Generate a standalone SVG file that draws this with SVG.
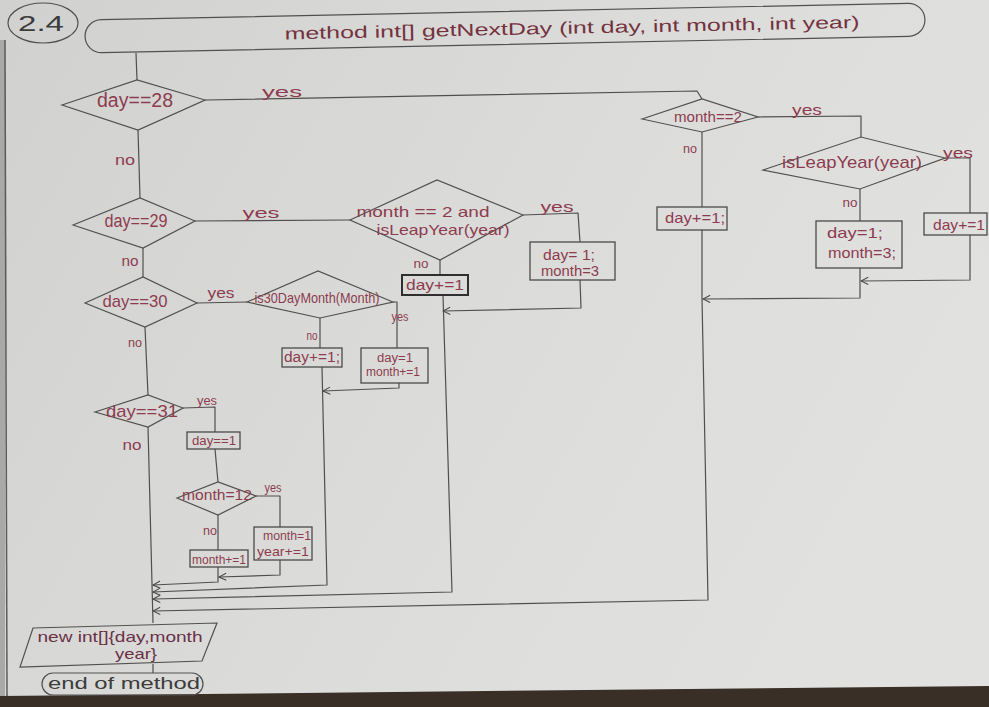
<svg xmlns="http://www.w3.org/2000/svg" width="989" height="707" viewBox="0 0 989 707">
  <defs>
    <linearGradient id="paper" x1="0" y1="0" x2="1" y2="0.4">
      <stop offset="0" stop-color="#d1d2cf"/>
      <stop offset="0.55" stop-color="#dbdcd9"/>
      <stop offset="1" stop-color="#e1e2e0"/>
    </linearGradient>
    <marker id="chev" viewBox="0 0 10 10" refX="9" refY="5" markerWidth="9" markerHeight="9" markerUnits="userSpaceOnUse" orient="auto">
      <path d="M1,1 L9,5 L1,9" fill="none" stroke="#4a4a4a" stroke-width="1.2"/>
    </marker>
    <style>
      .ln { fill: none; stroke: #4f4f4f; stroke-width: 1.2; stroke-linejoin: round; }
      .arr { marker-end: url(#chev); }
      .shp { fill: none; stroke: #505050; stroke-width: 1.2; }
      .box { fill: none; stroke: #4a4a4a; stroke-width: 1.3; }
      .bold { stroke: #2f2f2f; stroke-width: 2; }
      .ink { font-family: "Liberation Sans", Arial, sans-serif; fill: #8d3c50; text-anchor: middle; }
      .dark { fill: #3c3c3c; }
      .title { fill: #74323f; }
      .ret { fill: #6a3048; }
      .yn { font-size: 15px; }
    </style>
  </defs>

  <!-- sheet of paper -->
  <rect x="0" y="0" width="989" height="707" fill="url(#paper)"/>
  <rect x="0" y="40" width="5" height="660" fill="#a9aaa7"/>
  <line x1="5" y1="40" x2="7" y2="698" stroke="#5a5a58" stroke-width="1.5"/>
  <polygon points="0,696 989,686 989,707 0,707" fill="#3a2f27"/>

  <!-- task number -->
  <g id="task-number">
    <ellipse cx="43" cy="23" rx="35" ry="20" class="shp"/>
    <text x="41" y="31" class="ink dark" font-size="22" textLength="46" lengthAdjust="spacingAndGlyphs">2.4</text>
  </g>

  <!-- method header -->
  <g id="start" transform="rotate(-1.16 505 28)">
    <rect x="85" y="11.5" width="840" height="33" rx="16.5" class="shp"/>
    <text x="572" y="35" class="ink title" font-size="17" textLength="575" lengthAdjust="spacingAndGlyphs">method  int[]  getNextDay (int day, int month, int year)</text>
  </g>

  <!-- connectors -->
  <g id="connectors">
    <polyline class="ln" points="136,53 137,80"/>
    <polyline class="ln" points="205,100 697,91 702,99"/>
    <polyline class="ln" points="138,130 140,198"/>
    <polyline class="ln" points="195,221 350,220"/>
    <polyline class="ln" points="143,248 143,277"/>
    <polyline class="ln" points="197,303 247,302"/>
    <polyline class="ln" points="145,327 148,395"/>
    <polyline class="ln" points="148,427 153,623"/>
    <polyline class="ln" points="183,408 215,407 215,432"/>
    <polyline class="ln" points="215,449 218,482"/>
    <polyline class="ln" points="256,496 280,496 280,527"/>
    <polyline class="ln" points="218,515 218,550"/>
    <polyline class="ln arr" points="218,567 218,582 153,585"/>
    <polyline class="ln arr" points="280,560 280,575 219,577"/>
    <polyline class="ln" points="320,318 320,348"/>
    <polyline class="ln" points="393,302 397,302 397,348"/>
    <polyline class="ln arr" points="399,383 399,388 323,391"/>
    <polyline class="ln arr" points="322,367 327,585 153,592"/>
    <polyline class="ln" points="523,215 578,213 580,242"/>
    <polyline class="ln" points="440,260 440,275"/>
    <polyline class="ln arr" points="580,280 581,308 443,311"/>
    <polyline class="ln arr" points="443,295 452,592 153,599"/>
    <polyline class="ln" points="702,132 702,207"/>
    <polyline class="ln arr" points="702,230 702,298 708,600 153,611"/>
    <polyline class="ln" points="758,117 861,116 861,137"/>
    <polyline class="ln" points="860,189 860,221"/>
    <polyline class="ln arr" points="860,268 860,298 703,299"/>
    <polyline class="ln" points="945,158 970,158 970,213"/>
    <polyline class="ln arr" points="970,235 970,280 861,281"/>
    <polyline class="ln" points="153,664 153,673"/>

    <!-- branch labels -->
    <text x="282" y="97" class="ink yn" textLength="40" lengthAdjust="spacingAndGlyphs">yes</text>
    <text x="125" y="165" class="ink yn" textLength="20" lengthAdjust="spacingAndGlyphs">no</text>
    <text x="261" y="218" class="ink yn" textLength="37" lengthAdjust="spacingAndGlyphs">yes</text>
    <text x="130" y="266" class="ink yn" textLength="17" lengthAdjust="spacingAndGlyphs">no</text>
    <text x="221" y="298" class="ink yn" textLength="27" lengthAdjust="spacingAndGlyphs">yes</text>
    <text x="135" y="347" class="ink" font-size="13" textLength="14" lengthAdjust="spacingAndGlyphs">no</text>
    <text x="400" y="321" class="ink" font-size="12" textLength="17" lengthAdjust="spacingAndGlyphs">yes</text>
    <text x="312" y="340" class="ink" font-size="12" textLength="11" lengthAdjust="spacingAndGlyphs">no</text>
    <text x="207" y="405" class="ink" font-size="12" textLength="20" lengthAdjust="spacingAndGlyphs">yes</text>
    <text x="132" y="450" class="ink" font-size="14" textLength="19" lengthAdjust="spacingAndGlyphs">no</text>
    <text x="273" y="492" class="ink" font-size="12" textLength="17" lengthAdjust="spacingAndGlyphs">yes</text>
    <text x="210" y="535" class="ink" font-size="12" textLength="14" lengthAdjust="spacingAndGlyphs">no</text>
    <text x="557" y="212" class="ink yn" textLength="33" lengthAdjust="spacingAndGlyphs">yes</text>
    <text x="421" y="268" class="ink" font-size="13" textLength="15" lengthAdjust="spacingAndGlyphs">no</text>
    <text x="807" y="115" class="ink yn" textLength="30" lengthAdjust="spacingAndGlyphs">yes</text>
    <text x="690" y="153" class="ink" font-size="13" textLength="14" lengthAdjust="spacingAndGlyphs">no</text>
    <text x="958" y="158" class="ink yn" textLength="30" lengthAdjust="spacingAndGlyphs">yes</text>
    <text x="850" y="207" class="ink" font-size="13" textLength="15" lengthAdjust="spacingAndGlyphs">no</text>
  </g>

  <!-- decisions -->
  <g id="day-is-28">
    <polygon points="62,105 137,80 205,100 138,130" class="shp"/>
    <text x="135" y="107" class="ink" font-size="20" textLength="76" lengthAdjust="spacingAndGlyphs">day==28</text>
  </g>
  <g id="day-is-29">
    <polygon points="73,225 140,198 195,221 143,248" class="shp"/>
    <text x="136" y="227" class="ink" font-size="18" textLength="63" lengthAdjust="spacingAndGlyphs">day==29</text>
  </g>
  <g id="day-is-30">
    <polygon points="85,303 143,277 197,303 145,327" class="shp"/>
    <text x="135" y="307" class="ink" font-size="17" textLength="65" lengthAdjust="spacingAndGlyphs">day==30</text>
  </g>
  <g id="day-is-31">
    <polygon points="95,412 148,395 183,408 148,427" class="shp"/>
    <text x="142" y="417" class="ink" font-size="17" textLength="72" lengthAdjust="spacingAndGlyphs">day==31</text>
  </g>
  <g id="month-is-12">
    <polygon points="177,498 218,482 256,496 218,515" class="shp"/>
    <text x="217" y="500" class="ink" font-size="14" textLength="70" lengthAdjust="spacingAndGlyphs">month=12</text>
  </g>
  <g id="is-30-day-month">
    <polygon points="247,302 318,271 393,302 320,318" class="shp"/>
    <text x="317" y="303" class="ink" font-size="15" textLength="125" lengthAdjust="spacingAndGlyphs">is30DayMonth(Month)</text>
  </g>
  <g id="feb-leap-year">
    <polygon points="350,220 437,180 523,215 440,260" class="shp"/>
    <text x="423" y="217" class="ink" font-size="15" textLength="133" lengthAdjust="spacingAndGlyphs">month == 2  and</text>
    <text x="443" y="235" class="ink" font-size="15" textLength="133" lengthAdjust="spacingAndGlyphs">isLeapYear(year)</text>
  </g>
  <g id="month-is-2">
    <polygon points="642,119 702,99 758,117 702,132" class="shp"/>
    <text x="708" y="122" class="ink" font-size="14" textLength="68" lengthAdjust="spacingAndGlyphs">month==2</text>
  </g>
  <g id="is-leap-year">
    <polygon points="763,170 861,137 945,158 860,189" class="shp"/>
    <text x="852" y="168" class="ink" font-size="17" textLength="140" lengthAdjust="spacingAndGlyphs">isLeapYear(year)</text>
  </g>

  <!-- actions -->
  <g id="reset-day-31">
    <rect x="187" y="432" width="53" height="17" class="box"/>
    <text x="214" y="445" class="ink" font-size="13" textLength="44" lengthAdjust="spacingAndGlyphs">day==1</text>
  </g>
  <g id="next-month">
    <rect x="190" y="550" width="58" height="17" class="box"/>
    <text x="219" y="564" class="ink" font-size="13" textLength="54" lengthAdjust="spacingAndGlyphs">month+=1</text>
  </g>
  <g id="next-year">
    <rect x="254" y="527" width="58" height="33" class="box"/>
    <text x="287" y="540" class="ink" font-size="13" textLength="48" lengthAdjust="spacingAndGlyphs">month=1</text>
    <text x="283" y="556" class="ink" font-size="13" textLength="52" lengthAdjust="spacingAndGlyphs">year+=1</text>
  </g>
  <g id="inc-day-30">
    <rect x="282" y="348" width="60" height="19" class="box"/>
    <text x="312" y="362" class="ink" font-size="14" textLength="56" lengthAdjust="spacingAndGlyphs">day+=1;</text>
  </g>
  <g id="roll-month-30">
    <rect x="361" y="348" width="67" height="35" class="box"/>
    <text x="395" y="362" class="ink" font-size="12" textLength="36" lengthAdjust="spacingAndGlyphs">day=1</text>
    <text x="393" y="376" class="ink" font-size="12" textLength="54" lengthAdjust="spacingAndGlyphs">month+=1</text>
  </g>
  <g id="inc-day-29">
    <rect x="402" y="275" width="66" height="20" class="box bold"/>
    <text x="435" y="290" class="ink" font-size="15" textLength="58" lengthAdjust="spacingAndGlyphs">day+=1</text>
  </g>
  <g id="march-first-29">
    <rect x="530" y="242" width="85" height="38" class="box"/>
    <text x="569" y="260" class="ink" font-size="14" textLength="52" lengthAdjust="spacingAndGlyphs">day= 1;</text>
    <text x="570" y="276" class="ink" font-size="14" textLength="58" lengthAdjust="spacingAndGlyphs">month=3</text>
  </g>
  <g id="inc-day-28">
    <rect x="657" y="207" width="70" height="23" class="box"/>
    <text x="695" y="223" class="ink" font-size="15" textLength="60" lengthAdjust="spacingAndGlyphs">day+=1;</text>
  </g>
  <g id="march-first-28">
    <rect x="816" y="221" width="86" height="47" class="box"/>
    <text x="855" y="238" class="ink" font-size="15" textLength="56" lengthAdjust="spacingAndGlyphs">day=1;</text>
    <text x="862" y="258" class="ink" font-size="15" textLength="68" lengthAdjust="spacingAndGlyphs">month=3;</text>
  </g>
  <g id="inc-day-leap">
    <rect x="924" y="213" width="63" height="22" class="box"/>
    <text x="959" y="230" class="ink" font-size="15" textLength="52" lengthAdjust="spacingAndGlyphs">day+=1</text>
  </g>

  <!-- result and end -->
  <g id="return-array">
    <polygon points="33,628 217,623 202,661 20,667" class="shp"/>
    <text x="120" y="642" class="ink ret" font-size="15" textLength="165" lengthAdjust="spacingAndGlyphs">new int[]{day,month</text>
    <text x="136" y="659" class="ink ret" font-size="15" textLength="42" lengthAdjust="spacingAndGlyphs">year}</text>
  </g>
  <g id="end">
    <rect x="42" y="673" width="161" height="22" rx="11" class="shp"/>
    <text x="124" y="689" class="ink dark" font-size="16" textLength="152" lengthAdjust="spacingAndGlyphs">end of method</text>
  </g>
</svg>
